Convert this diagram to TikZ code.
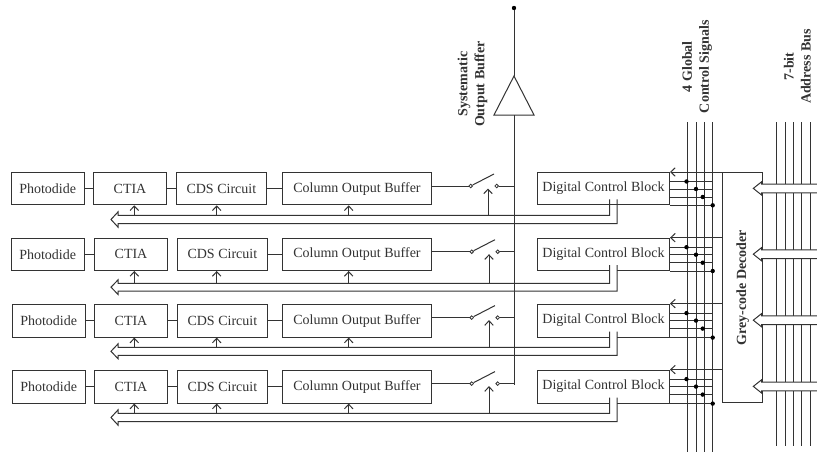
\documentclass[tikz,border=0pt]{standalone}
\usepackage{fontspec}
\setmainfont{Liberation Serif}
\usetikzlibrary{arrows.meta,calc}
\definecolor{ink}{gray}{0.2}
\tikzset{
  wire/.style={draw=ink,line width=1pt},
  barb/.style={-{Straight Barb[length=4.5pt,width=8.5pt]}},
  blockbox/.style={draw=ink,line width=1pt,anchor=north west,inner sep=0pt,text=ink,font=\fontsize{14}{16}\selectfont},
  term/.style={circle,draw=ink,fill=white,line width=0.8pt,inner sep=0pt,minimum size=3.6pt},
  dotmark/.style={circle,fill=black,inner sep=0pt,minimum size=4.4pt},
  biglabel/.style={rotate=90,align=center,text=ink,font=\fontsize{14}{17}\bfseries\selectfont},
}
\begin{document}
\begin{tikzpicture}[x=1pt,y=-1pt]
\useasboundingbox[fill=white] (0,0) rectangle (817,453);
% vertical bundles
\foreach \j/\x in {1/687.7,2/696,3/704.3,4/712.7}{
  \coordinate (ct\j) at (\x,122);
  \coordinate (cb\j) at (\x,452);
  \draw[wire] (ct\j) -- (cb\j);
}
\foreach \j/\x in {1/776.7,2/785,3/793.7,4/801.7,5/810}{
  \coordinate (at\j) at (\x,122);
  \coordinate (ab\j) at (\x,445.7);
  \draw[wire] (at\j) -- (ab\j);
}
% decoder
\node[blockbox,minimum width=40pt,minimum height=230.4pt] (dec) at (722.3,172) {};
\node[biglabel] (declabel) at (dec.center) {Grey-code Decoder};
% output buffer
\coordinate (triA) at (514,76);
\coordinate (triL) at (494,115);
\coordinate (triR) at (534,115);
\coordinate (triB) at (514,115);
\node[dotmark] (outdot) at (514,8) {};
\draw[wire] (triA) -- (triL) -- (triR) -- cycle;
\draw[wire] (triA) -- (outdot);
\coordinate (busbot) at (514,384.5);
\draw[wire] (triB) -- (busbot);
% rows: index/top/height/dx photodiode/dx others/upper bus/lower bus
\foreach \i/\t/\h/\p/\c/\ua/\ub in {
  1/172/32.3/0/0/215.3/223.7,
  2/237.7/32.3/0/1/283.3/291,
  3/303.6/33/1/1/347.3/355.3,
  4/369.6/33/1/1/413.3/421.7}{
  \node[blockbox,minimum width=73pt,minimum height=\h pt] (ph\i) at ({10.7+\p},\t) {Photodide};
  \node[blockbox,minimum width=73pt,minimum height=\h pt] (ct\i n) at ({93+\c},\t) {CTIA};
  \node[blockbox,minimum width=89.7pt,minimum height=\h pt] (cd\i) at ({176+\c},\t) {CDS Circuit};
  \node[blockbox,minimum width=149pt,minimum height=\h pt] (co\i) at (282,\t) {Column Output Buffer};
  \node[blockbox,minimum width=132pt,minimum height=\h pt] (dc\i) at (537,\t) {Digital Control Block};
  \draw[wire] (ph\i) -- (ct\i n);
  \ifnum\i=2\else\draw[wire] (ct\i n) -- (cd\i);\fi
  \draw[wire] (cd\i) -- (co\i);
  % switch
  \node[term] (sl\i) at ({470.7+\c},{\t+14}) {};
  \node[term] (sr\i) at ({496.7+\c},{\t+14}) {};
  \coordinate (sa\i) at ({494+\c},{\t+2});
  \coordinate (sj\i) at (514,{\t+14});
  \draw[wire] (co\i.east |- sl\i) -- (sl\i);
  \draw[wire] (sl\i) -- (sa\i);
  \draw[wire] (sr\i) -- (sj\i);
  % bus
  \coordinate (bs\i) at ($(dc\i.south west)+(72.7,-6)$);
  \coordinate (bt\i) at ($(dc\i.south west)+(80,-6)$);
  \coordinate (bk\i) at ($(dc\i.south west)+(72.7,0)$);
  \coordinate (bl\i) at ($(dc\i.south west)+(80,0)$);
  \draw[white,line width=1.6pt] (bk\i) -- (bl\i);
  \draw[wire] (bs\i) -- (bs\i |- 0,\ua) -- (118,\ua) -- (118,{\ua-3.4}) -- (111,{(\ua+\ub)/2}) -- (118,{\ub+3.4}) -- (118,\ub) -- (bt\i |- 0,\ub) -- (bt\i);
  % control arrows up from bus
  \foreach \nm/\x in {ct\i n/134.3,cd\i/216.7,co\i/348.7}{
    \draw[wire,barb] (\x,\ua) -- (\nm.south -| \x,0);
  }
  \coordinate (sw\i) at ({488+\c},\ua);
  \draw[wire,barb] (sw\i) -- ({488+\c},{\t+16.5});
  % right side
  \coordinate (h1\i) at ($(dc\i.north east)+(0,9.5)$);
  \coordinate (h2\i) at ($(dc\i.north east)+(0,17)$);
  \coordinate (h3\i) at ($(dc\i.north east)+(0,25)$);
  \draw[wire,barb] (dec.west |- dc\i.north east) -- (dc\i.north east);
  \foreach \j in {1,2,3}{
    \draw[wire] (h\j\i) -- (ct4 |- h\j\i);
  }
  \node[dotmark] (dt1\i) at ($(ct1 |- h1\i)+(-1.2,0)$) {};
  \node[dotmark] (dt2\i) at (ct2 |- h2\i) {};
  \node[dotmark] (dt3\i) at ($(ct3 |- h3\i)+(-1.6,0)$) {};
  \draw[wire] (dc\i.south east) -- (ct4 |- dc\i.south east);
  \node[dotmark] (dt4\i) at (ct4 |- dc\i.south east) {};
}
% address block arrows
\foreach \i/\m in {1/188.4,2/254.2,3/320.2,4/386.4}{
  \coordinate (ae\i) at (817,\m);
  \filldraw[draw=ink,fill=white,line width=1pt] (817,{\m-4.4}) -- (761.7,{\m-4.4}) -- (761.7,{\m-6.7}) -- (753.3,\m) -- (761.7,{\m+6.7}) -- (761.7,{\m+4.4}) -- (817,{\m+4.4});
}
% labels
\node[biglabel] (lbl1) at (472.5,84) {Systematic\\Output Buffer};
\node[biglabel] (lbl2) at (697,66.7) {4 Global\\Control Signals};
\node[biglabel] (lbl3) at (797.3,66.5) {7-bit\\Address Bus};
\end{tikzpicture}
\end{document}
